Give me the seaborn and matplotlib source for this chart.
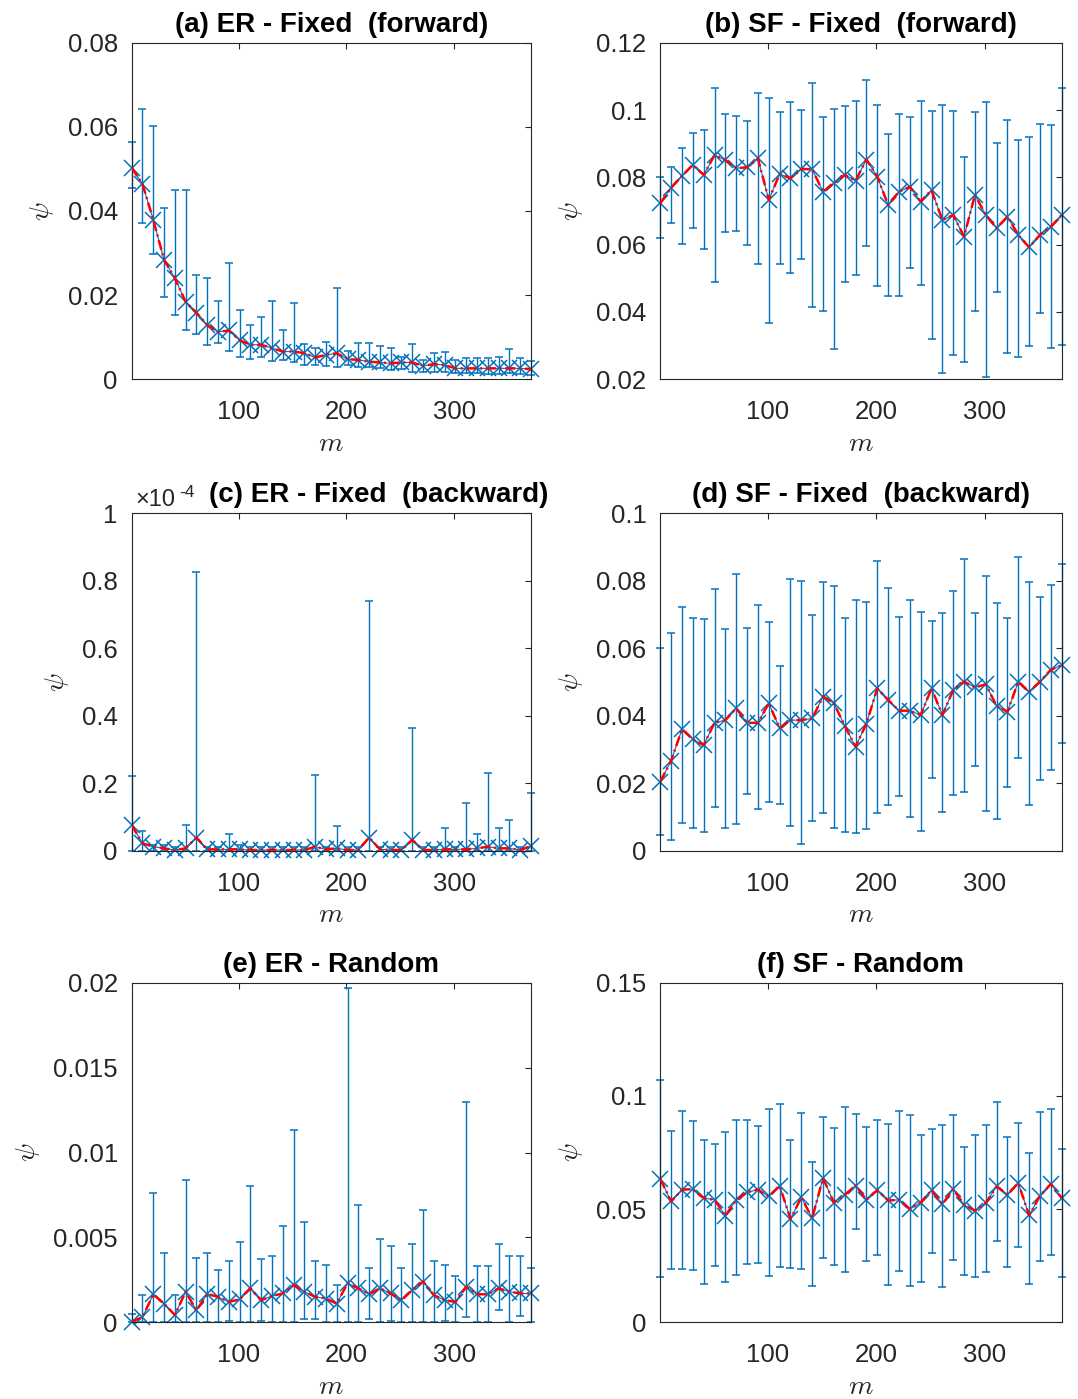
import numpy as np
import matplotlib
matplotlib.use("Agg")
import matplotlib.pyplot as plt
import seaborn as sns
from matplotlib.ticker import FuncFormatter

# ---------------- data ----------------
m = np.arange(1, 372, 10)  # 1, 11, ..., 371

# (a) ER - Fixed (forward)
a_mean = [0.0503, 0.0464, 0.0379, 0.0284, 0.0240, 0.0184, 0.0158, 0.0129, 0.0113, 0.0116,
          0.0093, 0.0082, 0.0082, 0.0074, 0.0066, 0.0066, 0.0062, 0.0052, 0.0058, 0.0062,
          0.0048, 0.0046, 0.0042, 0.0040, 0.0038, 0.0040, 0.0040, 0.0032, 0.0036, 0.0034,
          0.0026, 0.0026, 0.0026, 0.0026, 0.0026, 0.0026, 0.0026, 0.0024]
a_hi = [0.0563, 0.0642, 0.0602, 0.0408, 0.0451, 0.0451, 0.0249, 0.0240, 0.0186, 0.0276,
        0.0165, 0.0129, 0.0147, 0.0185, 0.0117, 0.0181, 0.0083, 0.0074, 0.0088, 0.0216,
        0.0067, 0.0086, 0.0086, 0.0079, 0.0074, 0.0052, 0.0084, 0.0046, 0.0063, 0.0066,
        0.0046, 0.0050, 0.0050, 0.0050, 0.0054, 0.0071, 0.0050, 0.0044]
a_lo = [0.0454, 0.0371, 0.0298, 0.0196, 0.0154, 0.0116, 0.0108, 0.0081, 0.0086, 0.0068,
        0.0052, 0.0048, 0.0054, 0.0044, 0.0046, 0.0042, 0.0035, 0.0035, 0.0032, 0.0030,
        0.0033, 0.0030, 0.0030, 0.0026, 0.0022, 0.0024, 0.0018, 0.0018, 0.0018, 0.0018,
        0.0014, 0.0014, 0.0014, 0.0013, 0.0013, 0.0014, 0.0013, 0.0010]

# (b) SF - Fixed (forward)
b_mean = [0.0723, 0.0769, 0.0805, 0.0837, 0.0807, 0.0866, 0.0851, 0.0827, 0.0830, 0.0856,
          0.0733, 0.0810, 0.0797, 0.0825, 0.0824, 0.0757, 0.0782, 0.0807, 0.0790, 0.0853,
          0.0802, 0.0718, 0.0757, 0.0772, 0.0728, 0.0762, 0.0673, 0.0688, 0.0624, 0.0748,
          0.0688, 0.0649, 0.0683, 0.0629, 0.0592, 0.0629, 0.0653, 0.0688]
b_hi = [0.0802, 0.0830, 0.0888, 0.0933, 0.0941, 0.1066, 0.0988, 0.0982, 0.0968, 0.1051,
        0.1037, 0.0995, 0.1025, 0.1000, 0.1081, 0.0978, 0.1002, 0.1012, 0.1026, 0.1089,
        0.1014, 0.0929, 0.0987, 0.0978, 0.1028, 0.0998, 0.1016, 0.0996, 0.0859, 0.0995,
        0.1025, 0.0901, 0.0970, 0.0911, 0.0921, 0.0958, 0.0955, 0.1066]
b_lo = [0.0619, 0.0663, 0.0602, 0.0649, 0.0587, 0.0490, 0.0639, 0.0641, 0.0599, 0.0542,
        0.0366, 0.0542, 0.0515, 0.0558, 0.0416, 0.0403, 0.0289, 0.0490, 0.0510, 0.0597,
        0.0478, 0.0446, 0.0446, 0.0532, 0.0480, 0.0319, 0.0220, 0.0272, 0.0250, 0.0403,
        0.0208, 0.0458, 0.0277, 0.0267, 0.0299, 0.0398, 0.0292, 0.0302]

# (c) ER - Fixed (backward), values in units of 1e-4
c_scale = 1e-4
c_mean = np.array([0.076, 0.022, 0.012, 0.007, 0.002, 0.007, 0.039, 0.004, 0.004, 0.004,
                   0.004, 0.002, 0.002, 0.002, 0.002, 0.002, 0.002, 0.012, 0.004, 0.007,
                   0.002, 0.002, 0.039, 0.004, 0.002, 0.002, 0.032, 0.002, 0.002, 0.004,
                   0.004, 0.004, 0.007, 0.012, 0.007, 0.007, 0.002, 0.014]) * c_scale
c_hi = np.array([0.221, 0.059, 0.017, 0.017, 0.012, 0.076, 0.827, 0.012, 0.012, 0.049,
                 0.017, 0.012, 0.012, 0.012, 0.012, 0.012, 0.012, 0.224, 0.012, 0.074,
                 0.012, 0.012, 0.741, 0.012, 0.012, 0.012, 0.365, 0.012, 0.012, 0.066,
                 0.012, 0.142, 0.049, 0.231, 0.066, 0.091, 0.012, 0.172]) * c_scale
c_lo = np.zeros(38)

# (d) SF - Fixed (backward)
d_mean = [0.0205, 0.0267, 0.0360, 0.0330, 0.0313, 0.0379, 0.0387, 0.0422, 0.0379, 0.0379,
          0.0437, 0.0363, 0.0387, 0.0387, 0.0392, 0.0457, 0.0437, 0.0370, 0.0308, 0.0377,
          0.0481, 0.0447, 0.0415, 0.0415, 0.0402, 0.0481, 0.0402, 0.0476, 0.0501, 0.0484,
          0.0493, 0.0429, 0.0412, 0.0501, 0.0471, 0.0501, 0.0536, 0.0550]
d_hi = [0.0600, 0.0644, 0.0723, 0.0691, 0.0687, 0.0776, 0.0656, 0.0820, 0.0660, 0.0727,
        0.0677, 0.0547, 0.0806, 0.0800, 0.0699, 0.0795, 0.0785, 0.0691, 0.0743, 0.0738,
        0.0859, 0.0778, 0.0692, 0.0744, 0.0707, 0.0681, 0.0704, 0.0771, 0.0864, 0.0704,
        0.0813, 0.0733, 0.0690, 0.0871, 0.0797, 0.0753, 0.0788, 0.0849]
d_lo = [0.0046, 0.0032, 0.0083, 0.0066, 0.0054, 0.0130, 0.0066, 0.0079, 0.0167, 0.0123,
        0.0145, 0.0138, 0.0074, 0.0019, 0.0089, 0.0111, 0.0066, 0.0054, 0.0053, 0.0064,
        0.0111, 0.0135, 0.0162, 0.0101, 0.0059, 0.0216, 0.0116, 0.0165, 0.0175, 0.0252,
        0.0118, 0.0094, 0.0188, 0.0274, 0.0135, 0.0209, 0.0239, 0.0320]

# (e) ER - Random
e_mean = [0.00004, 0.0003, 0.00165, 0.0011, 0.00043, 0.0018, 0.0007, 0.00167, 0.0015, 0.0012,
          0.00135, 0.0020, 0.0013, 0.00155, 0.0017, 0.0022, 0.0018, 0.0015, 0.0014, 0.0011,
          0.0023, 0.0020, 0.00165, 0.0020, 0.0017, 0.0013, 0.0019, 0.0024, 0.0016, 0.0013,
          0.0012, 0.0021, 0.00165, 0.00165, 0.0020, 0.0018, 0.0017, 0.0017]
e_hi = [0.0005, 0.0016, 0.0076, 0.0041, 0.0016, 0.0084, 0.0038, 0.0041, 0.0031, 0.0036,
        0.0047, 0.0080, 0.0037, 0.0039, 0.0057, 0.0113, 0.0059, 0.0036, 0.0034, 0.0022,
        0.0197, 0.0069, 0.0032, 0.0049, 0.0045, 0.0032, 0.0046, 0.0066, 0.0036, 0.0034,
        0.0027, 0.0130, 0.0033, 0.0033, 0.0046, 0.0039, 0.0039, 0.0032]
e_lo = [0.0, 0.0, 0.0, 0.0, 0.0, 0.0, 0.0, 0.0, 0.0, 0.0001,
        0.0, 0.0, 0.0001, 0.0, 0.0, 0.0, 0.0002, 0.0002, 0.0, 0.0,
        0.0, 0.0, 0.0002, 0.0, 0.0001, 0.0, 0.0, 0.0, 0.0, 0.0001,
        0.0, 0.0003, 0.0, 0.0, 0.0007, 0.0, 0.0004, 0.0]

# (f) SF - Random
f_mean = [0.0633, 0.0534, 0.0586, 0.0588, 0.0549, 0.0541, 0.0470, 0.0541, 0.0574, 0.0586,
          0.0556, 0.0603, 0.0456, 0.0552, 0.0460, 0.0637, 0.0529, 0.0563, 0.0603, 0.0541,
          0.0583, 0.0538, 0.0541, 0.0500, 0.0529, 0.0583, 0.0522, 0.0588, 0.0519, 0.0493,
          0.0527, 0.0600, 0.0563, 0.0615, 0.0472, 0.0559, 0.0611, 0.0549]
f_hi = [0.1072, 0.0847, 0.0932, 0.0888, 0.0804, 0.0788, 0.0839, 0.0895, 0.0892, 0.0866,
        0.0942, 0.0966, 0.0807, 0.0925, 0.0708, 0.0907, 0.0858, 0.0950, 0.0922, 0.0863,
        0.0895, 0.0878, 0.0932, 0.0917, 0.0829, 0.0855, 0.0870, 0.0917, 0.0773, 0.0829,
        0.0870, 0.0972, 0.0817, 0.0881, 0.0748, 0.0928, 0.0942, 0.0765]
f_lo = [0.0199, 0.0235, 0.0235, 0.0232, 0.0170, 0.0249, 0.0177, 0.0209, 0.0258, 0.0264,
        0.0206, 0.0243, 0.0242, 0.0235, 0.0162, 0.0283, 0.0251, 0.0220, 0.0413, 0.0271,
        0.0298, 0.0165, 0.0227, 0.0161, 0.0176, 0.0308, 0.0158, 0.0273, 0.0209, 0.0198,
        0.0224, 0.0357, 0.0243, 0.0332, 0.0168, 0.0271, 0.0298, 0.0199]

titles = ["(a) ER - Fixed  (forward)", "(b) SF - Fixed  (forward)",
          "(c) ER - Fixed  (backward)", "(d) SF - Fixed  (backward)",
          "(e) ER - Random", "(f) SF - Random"]
yticks = [[0, 0.02, 0.04, 0.06, 0.08],
          [0.02, 0.04, 0.06, 0.08, 0.1, 0.12],
          [0, 0.2e-4, 0.4e-4, 0.6e-4, 0.8e-4, 1e-4],
          [0, 0.02, 0.04, 0.06, 0.08, 0.1],
          [0, 0.005, 0.01, 0.015, 0.02],
          [0, 0.05, 0.1, 0.15]]
xticks = [100, 200, 300]

panels = [(a_mean, a_lo, a_hi), (b_mean, b_lo, b_hi), (c_mean, c_lo, c_hi),
          (d_mean, d_lo, d_hi), (e_mean, e_lo, e_hi), (f_mean, f_lo, f_hi)]

# ---------------- style ----------------
sns.set_style("white")
plt.rcParams["font.family"] = ["Liberation Sans", "DejaVu Sans"]
plt.rcParams["mathtext.fontset"] = "cm"
plt.rcParams["axes.linewidth"] = 0.8

BLUE = "#0072BD"
TXT = "#262626"

fig = plt.figure(figsize=(10.78, 13.99), dpi=100)
W, H = 1078.0, 1399.0
col_l = [131.7, 660.3]
col_w = [399.3, 401.4]
row_t = [42.7, 513.3, 982.7]
row_b = [379.3, 850.7, 1322.3]

for i, (mean, lo, hi) in enumerate(panels):
    r, c = divmod(i, 2)
    ax = fig.add_axes([col_l[c] / W, 1 - row_b[r] / H, col_w[c] / W,
                       (row_b[r] - row_t[r]) / H])
    mean = np.asarray(mean, float)
    lo = np.asarray(lo, float)
    hi = np.asarray(hi, float)
    yerr = np.vstack([mean - lo, hi - mean])
    ax.errorbar(m, mean, yerr=yerr, fmt="-x", color=BLUE, ms=11, mew=1.1,
                lw=0.8, elinewidth=1.0, capsize=3, capthick=1.0,
                clip_on=False, zorder=2)
    sns.lineplot(x=m, y=mean, ax=ax, color="red", lw=1.8,
                 linestyle=(0, (4, 1.5, 0.8, 1.5)), errorbar=None,
                 zorder=3)
    ax.set_xlim(m[0], m[-1])
    ax.set_ylim(yticks[i][0], yticks[i][-1])
    ax.set_xticks(xticks)
    ax.set_yticks(yticks[i])
    if i == 2:
        ax.yaxis.set_major_formatter(FuncFormatter(lambda v, p: "%g" % round(v / c_scale, 6)))
        ax.annotate("×10", xy=(0, 1), xycoords="axes fraction", xytext=(2.4, 5.5),
                    textcoords="offset points", fontsize=17, color=TXT,
                    ha="left", va="baseline")
        ax.annotate("-4", xy=(0, 1), xycoords="axes fraction", xytext=(34, 11.5),
                    textcoords="offset points", fontsize=12.5, color=TXT,
                    ha="left", va="baseline")
        ax.set_title(titles[i], fontsize=20, fontweight="bold", pad=8,
                     x=0.619, color="black")
    else:
        ax.yaxis.set_major_formatter(FuncFormatter(lambda v, p: "%g" % round(v, 6)))
        ax.set_title(titles[i], fontsize=20, fontweight="bold", pad=8, color="black")
    ax.tick_params(axis="both", direction="in", top=True, right=True, length=4,
                   width=0.8, labelsize=18.5, colors=TXT)
    ax.tick_params(axis="x", pad=15)
    ax.tick_params(axis="y", pad=10)
    for s in ax.spines.values():
        s.set_color(TXT)
        s.set_linewidth(0.8)
    ax.set_xlabel(r"$m$", fontsize=20, labelpad=5, color=TXT)
    ax.set_ylabel(r"$\psi$", fontsize=20, labelpad=8, color=TXT)

fig.savefig("out.png", dpi=100)
